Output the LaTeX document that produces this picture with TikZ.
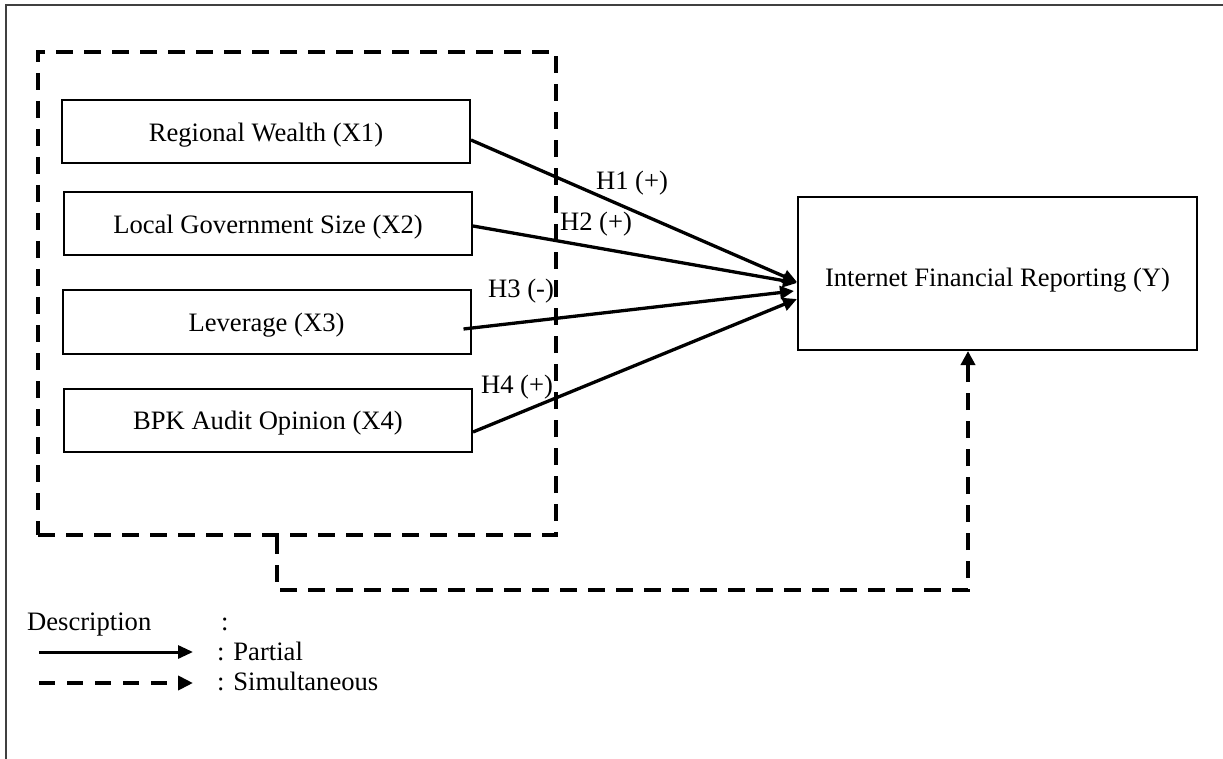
\documentclass[tikz,border=0pt]{standalone}
\usepackage{fontspec}
\setmainfont{Liberation Serif}
\usetikzlibrary{arrows.meta}
\begin{document}
\begin{tikzpicture}[x=1pt,y=-1pt,
  every node/.style={font=\fontsize{26.6}{30}\selectfont},
  varbox/.style={draw, line width=2pt, minimum width=408pt, minimum height=63pt, inner sep=0pt, text height=21pt, text depth=1.6pt},
  grpbox/.style={draw, line width=4pt, dash pattern=on 17pt off 11pt, minimum width=518pt, minimum height=483pt, inner sep=0pt},
  partial/.style={line width=3.3pt, -{Triangle[length=14pt,width=13pt]}},
  simul/.style={line width=4pt, dash pattern=on 17pt off 11pt, -{Triangle[length=14pt,width=14pt]}},
  frameline/.style={draw=black!75, line width=2pt},
  lbl/.style={anchor=base, inner sep=0pt}
]
\useasboundingbox (0,0) rectangle (1223,759);
\draw[frameline] (6,759) -- (6,5) -- (1223,5);

\node[grpbox] (grp) at (297,293.5) {};
\node[varbox] (x1) at (266,131.5) {Regional Wealth (X1)};
\node[varbox] (x2) at (268,223.5) {Local Government Size (X2)};
\node[varbox] (x3) at (266.5,322) {Leverage (X3)};
\node[varbox] (x4) at (268,420) {BPK Audit Opinion (X4)};
\node[draw, line width=2pt, minimum width=399pt, minimum height=153pt, inner sep=0pt, text height=28pt, text depth=1.6pt] (y) at (997.5,273.5) {Internet Financial Reporting (Y)};

\draw[partial] ([yshift=-8.5pt]x1.east) -- ([yshift=-8.5pt]y.west);
\draw[partial] ([yshift=-2.5pt]x2.east) -- ([yshift=-9.5pt]y.west);
\draw[partial] ([xshift=-8pt,yshift=-7pt]x3.east) -- ([xshift=-3pt,yshift=-17.5pt]y.west);
\draw[partial] ([yshift=-12pt]x4.east) -- ([yshift=-25.5pt]y.west);

\node[lbl] (h1) at (632,190) {H1 (+)};
\node[lbl] (h2) at (596,231) {H2 (+)};
\node[lbl] (h3) at (521,298) {H3 (-)};
\node[lbl] (h4) at (517,393) {H4 (+)};

\draw[simul] ([xshift=-20pt]grp.south) -- ++(0,53) -| ([xshift=-29.5pt]y.south);

\node[lbl, anchor=base west] (desc) at (27,630) {Description};
\node[lbl, anchor=base west] (dcolon) at (221,630) {:};
\node[lbl, anchor=base west] (part) at (217,660) {: Partial};
\node[lbl, anchor=base west] (simt) at (217,690) {: Simultaneous};
\coordinate (pa) at (39,652);
\coordinate (pb) at (193,652);
\coordinate (sa) at (39,683);
\coordinate (sb) at (193,683);
\draw[line width=3pt, -{Triangle[length=15pt,width=13pt]}] (pa) -- (pb);
\draw[line width=4pt, dash pattern=on 16pt off 12pt, -{Triangle[length=15pt,width=14pt]}] (sa) -- (sb);
\end{tikzpicture}
\end{document}
